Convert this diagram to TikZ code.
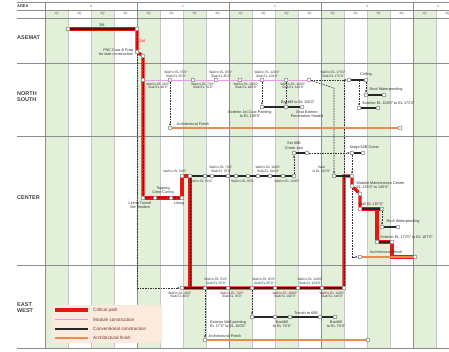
\documentclass[tikz,border=0pt]{standalone}
\usepackage{fontspec}
\setmainfont{Liberation Sans}
\usetikzlibrary{arrows.meta,positioning}
\definecolor{critred}{RGB}{232,22,18}
\definecolor{critdark}{RGB}{95,12,12}
\definecolor{modpink}{RGB}{236,150,236}
\definecolor{archorange}{RGB}{232,140,82}
\definecolor{qgreen}{RGB}{226,239,217}
\definecolor{legendbg}{RGB}{251,234,222}
\definecolor{gridgray}{RGB}{200,200,200}
\pgfdeclarelayer{grid}
\pgfdeclarelayer{wires}
\pgfsetlayers{grid,wires,main}

\begin{document}
\begin{tikzpicture}[
    x=1pt, y=-1pt,
    ev/.style={circle, draw=black!70, fill=white, line width=0.35pt, inner sep=0pt, minimum size=4pt},
    note/.style={font=\fontsize{3.3}{3.8}\selectfont, align=center, text=black!80, inner sep=0.5pt},
    tag/.style={font=\fontsize{3.8}{4.3}\selectfont, align=center, text=black!80, inner sep=0.5pt},
    area/.style={font=\fontsize{5.5}{6.1}\selectfont\bfseries, align=left, text=black!75, anchor=west, inner sep=0pt},
    hdr/.style={font=\fontsize{3.2}{3.6}\selectfont, text=black!65, inner sep=0pt},
    legtext/.style={font=\fontsize{4.6}{5}\selectfont, text=black!55!red!60!gray, anchor=west, inner sep=0pt},
    crit/.style={draw=critred, line width=3.4pt},
    critline/.style={draw=critdark, line width=1.2pt},
    critdash/.style={draw=critdark, line width=1pt, dash pattern=on 2pt off 1.2pt},
    modline/.style={draw=modpink, line width=0.8pt},
    conv/.style={draw=black!85, line width=1.3pt},
    archline/.style={draw=archorange, line width=1.3pt},
    depline/.style={draw=black!80, line width=0.6pt, dash pattern=on 1.6pt off 1pt},
    dep/.style={depline, -{Latex[length=2.2pt,width=2pt]}}
]
\useasboundingbox (0,0) rectangle (449,352);

% schedule grid
\begin{pgfonlayer}{grid}
\foreach \k in {0,2,...,16}
  \fill[qgreen] (45+23*\k,10) rectangle (68+23*\k,348);
\foreach \k in {0,...,17}
  \draw[gridgray, line width=0.3pt] (45+23*\k,10) -- (45+23*\k,348);
\foreach \j in {0,...,4}
  \draw[black!45, line width=0.45pt] (45+92*\j,2.5) -- (45+92*\j,348);
\foreach \yy in {2.5,10,18,63,136,265,348}
  \draw[black!45, line width=0.4pt] (17,\yy) -- (449,\yy);
\end{pgfonlayer}

\foreach \k in {0,...,17} {
  \pgfmathtruncatemacro\qn{mod(\k,4)+1}
  \node[hdr] (qtr\k) at (56.5+23*\k,14) {\qn Q};
}
\foreach \yx/\yn in {91/0,183/1,275/2,367/3,438/4}
  \node[hdr] (yr\yn) at (\yx,6.2) {\yn};

\node[area, font=\fontsize{4}{4.5}\selectfont\bfseries] (rowH) at (17,6.2) {AREA};
\node[area] (rowB) at (17,38) {ASEMAT};
\node[area] (rowN) at (17,97) {NORTH\\SOUTH};
\node[area] (rowC) at (17,198) {CENTER};
\node[area] (rowE) at (17,308) {EAST\\WEST};

% basemat
\node[ev] (b1) at (68,29) {};
\node[ev] (b2) at (137,29) {};
\node[ev] (b3) at (137,52) {};
\node[ev] (b4) at (143,56) {};
\node[tag, above=2pt] (bdur) at (102,29) {3M};
\node[tag, text=critred, right=2pt] (bcure) at (137,41) {2M};
\node[tag, left=1pt of b3, align=right] (bprep) {FNC Cure \& Prep\\for stair construction};

% north / south
\node[ev] (n1) at (143,80) {};
\node[ev] (n2) at (170,80) {};
\node[ev] (n3) at (193,80) {};
\node[ev] (n4) at (216,80) {};
\node[ev] (n5) at (240,80) {};
\node[ev] (n6) at (262,80) {};
\node[ev] (n7) at (286,80) {};
\node[ev] (n8) at (309,80) {};
\node[ev] (n9) at (349,80) {};
\node[ev] (n10) at (366,80) {};
\coordinate (j1) at (344,80);
\coordinate (j2) at (359,80);
\coordinate (j3) at (334,88);
\node[ev] (r1) at (366,95) {};
\node[ev] (r2) at (384,95) {};
\node[ev] (x1) at (359,108) {};
\node[ev] (x2) at (378,108) {};
\node[ev] (p1) at (262,107) {};
\node[ev] (p2) at (286,107) {};
\node[ev] (p3) at (302,107) {};
\node[ev] (a1) at (170,128) {};
\node[ev] (a2) at (400,128) {};

\node[note, above] (nsA1) at (176,78) {Wall to EL 55'0"\\Slab EL 55'0"};
\node[note, above] (nsA2) at (221,78) {Wall to EL 85'0"\\Slab EL 85'0"};
\node[note, above] (nsA3) at (267,78) {Wall to EL 120'0"\\Slab EL 120'0"};
\node[note, above] (nsA4) at (333,78) {Wall to EL 175'0"\\Slab EL 175'0"};
\node[note, below] (nsB1) at (158,82) {Wall to EL 40'0"\\Slab EL 40'0"};
\node[note, below] (nsB2) at (203,82) {Wall to EL 70'0"\\Slab EL 70'0"};
\node[note, below] (nsB3) at (246,82) {Wall to EL 100'0"\\Slab EL 100'0"};
\node[note, below] (nsB4) at (293,82) {Wall to EL 140'0"\\Slab EL 140'0"};
\node[tag, above=1pt of n10] (nsC) {Ceiling};
\node[tag, anchor=south west] (nsR) at ([xshift=3pt,yshift=1pt]r1.north) {Roof Waterproofing};
\node[tag, anchor=south west] (nsX) at ([xshift=3pt,yshift=1pt]x1.north) {Exterior EL 100'0" to EL 172'0"};
\node[tag, anchor=north] (nsP1) at (250,110) {Exterior 1st Coat Painting\\to EL 100'0"};
\node[tag, anchor=south] (nsP2) at (298,104) {Backfill to EL 100'0"};
\node[tag, anchor=north] (nsP3) at (307,110) {Seal Exterior\\Penetration Sealed};
\node[tag, anchor=south west] (nsF) at (176,126) {Architectural Finish};

% center
\node[ev] (c1) at (143,198) {};
\node[ev] (c2) at (155,198) {};
\node[ev] (c3) at (171,198) {};
\node[ev] (c4) at (182,198) {};
\node[ev] (c5) at (182,176) {};
\node[ev] (c6) at (190,176) {};
\node[ev] (c7) at (205,176) {};
\node[ev] (c8) at (212,176) {};
\node[ev] (c9) at (228,176) {};
\node[ev] (c10) at (236,176) {};
\node[ev] (c11) at (248,176) {};
\node[ev] (c12) at (258,176) {};
\node[ev] (c13) at (270,176) {};
\node[ev] (c14) at (283,176) {};
\node[ev] (c15) at (294,176) {};
\node[ev] (s1) at (294,153) {};
\node[ev] (s2) at (307,153) {};
\node[ev] (s3) at (352,153) {};
\node[ev] (s4) at (363,153) {};
\node[ev] (w1) at (334,176) {};
\node[ev] (w2) at (352,176) {};
\coordinate (k0) at (190,288);
\coordinate (k1) at (344,176);
\node[ev] (m1) at (352,186) {};
\node[ev] (m2) at (360,194) {};
\node[ev] (g1) at (360,209) {};
\node[ev] (g2) at (382,209) {};
\coordinate (k2) at (377,209);
\node[ev] (r3) at (382,227) {};
\node[ev] (r4) at (398,227) {};
\node[ev] (h1) at (377,242) {};
\node[ev] (h2) at (392,242) {};
\node[ev] (f1) at (360,257) {};
\node[ev] (f2) at (415,257) {};

\node[tag, anchor=north] (ceL1) at (140,201) {Lining Tunnel\\Set position};
\node[tag, anchor=south] (ceT) at (163,195) {Topping\\Crest Curing};
\node[tag, anchor=north] (ceL2) at (179,201) {Lining};
\node[note, anchor=south] (ceW1) at (175,173) {Wall to EL 40'0"};
\node[note, anchor=south] (ceW2) at (221,173) {Wall to EL 70'0"\\Slab EL 70'0"};
\node[note, anchor=south] (ceW3) at (268,173) {Wall to EL 100'0"\\Slab EL 100'0"};
\node[note, anchor=north] (ceW4) at (201,179) {Wall to EL 55'0"};
\node[note, anchor=north] (ceW5) at (243,179) {Wall to EL 85'0"};
\node[note, anchor=north] (ceW6) at (287,179) {Wall to EL 120'0"};
\node[tag, above=1pt of s1] (ceS1) {Set 60B\\Crane Jaw};
\node[tag, anchor=south west] (ceS2) at (349,150) {Stage 60B Crane};
\node[note, anchor=south east] (ceW7) at (331,173) {Wall\\to EL 187'0"};
\node[tag, anchor=west, align=left] (ceM) at (356,185) {Module Maintenance Center\\EL 125'0" to 145'0"};
\node[tag, anchor=south] (ceG) at (371,206) {Wall EL 187'0"};
\node[tag, anchor=south west] (ceR) at (386,224) {Roof Waterproofing};
\node[tag, anchor=south west] (ceX) at (380,239) {Exterior EL 172'0" to EL 187'0"};
\node[tag, anchor=south] (ceF) at (386,254) {Architectural Finish};

% east / west
\node[ev] (e1) at (182,288) {};
\node[ev] (e2) at (205,288) {};
\node[ev] (e3) at (228,288) {};
\node[ev] (e4) at (252,288) {};
\node[ev] (e5) at (275,288) {};
\node[ev] (e6) at (298,288) {};
\node[ev] (e7) at (322,288) {};
\node[ev] (e8) at (344,288) {};
\node[ev] (t1) at (252,317) {};
\node[ev] (t2) at (275,317) {};
\node[ev] (t3) at (290,317) {};
\node[ev] (t4) at (320,317) {};
\node[ev] (t5) at (335,317) {};
\node[ev] (f3) at (205,340) {};
\node[ev] (f4) at (368,340) {};

\node[note, anchor=south] (ewA1) at (216,285) {Wall to EL 55'0"\\Slab EL 55'0"};
\node[note, anchor=south] (ewA2) at (264,285) {Wall to EL 85'0"\\Slab EL 85'0"};
\node[note, anchor=south] (ewA3) at (310,285) {Wall to EL 120'0"\\Slab EL 120'0"};
\node[note, anchor=north] (ewB1) at (180,291) {Wall to EL 40'0"\\Slab EL 40'0"};
\node[note, anchor=north] (ewB2) at (232,291) {Wall to EL 70'0"\\Slab EL 70'0"};
\node[note, anchor=north] (ewB3) at (285,291) {Wall to EL 100'0"\\Slab EL 100'0"};
\node[note, anchor=north] (ewB4) at (332,291) {Wall to EL 140'0"\\Slab EL 140'0"};
\node[tag, anchor=north] (ewP) at (228,320) {Exterior Wall painting\\EL 17'0" to EL 100'0"};
\node[tag, anchor=north] (ewK1) at (282,320) {Backfill\\to EL 70'0"};
\node[tag, anchor=south] (ewT) at (306,315) {Trench to 60B};
\node[tag, anchor=north] (ewK2) at (336,320) {Backfill\\to EL 70'0"};
\node[tag, anchor=south west] (ewF) at (208,338) {Architectural Finish};

\begin{pgfonlayer}{wires}
% dependencies
\draw[dep] (b3) |- (e1);
\draw[dep] (n2) -- (a1);
\draw[dep] (n6) -- (p1);
\draw[dep] (n7) -- (p2);
\draw[depline] (n8) -- (j1);
\draw[dep] (j1) -- (n9);
\draw[depline] (j1) -- (k1);
\draw[dep] (n8) -- (j3) -- (w1);
\draw[dep] (j2) -- (x1);
\draw[dep] (n10) -- (r1);
\draw[dep] (c15) -- (s1);
\draw[dep] (s2) -- (s3);
\draw[dep] (s3) -- (w2);
\draw[dep] (m1) |- (f1);
\draw[dep] (g2) -- (r3);
\draw[dep] (e4) -- (t1);
\draw[dep] (e2) -- (f3);
% critical path
\draw[crit] (b1) -- (b2);
\draw[crit] (b2) -- (b3) -- (b4) -- (c1);
\draw[crit] (c1) -- (c4) -- (c5) -- (c6) -- (k0);
\draw[crit] (e1) -- (e8) -- (k1) -- (w2) -- (m1) -- (m2) -- (g1);
\draw[crit] (g1) -- (g2);
\draw[crit] (k2) -- (h1) -- (h2) |- (f2);
\draw[critline] (b1) -- (b2);
\draw[critdash] (b2) -- (b3);
\draw[critdash] (b4) -- (c1);
\draw[critdash] (c1) -- (c4);
\draw[critdash] (c6) -- (k0);
\draw[critline] (e1) -- (e8);
\draw[critdash] (e8) -- (k1);
% activities
\draw[modline] (n1) -- (n8);
\draw[conv] (n9) -- (n10);
\draw[conv] (r1) -- (r2);
\draw[conv] (x1) -- (x2);
\draw[conv] (p1) -- (p3);
\draw[conv] (c6) -- (c15);
\draw[conv] (s1) -- (s2);
\draw[conv] (s3) -- (s4);
\draw[conv] (w1) -- (w2);
\draw[conv] (g1) -- (g2);
\draw[conv] (r3) -- (r4);
\draw[conv] (h1) -- (h2);
\draw[conv] (t1) -- (t5);
\draw[archline] (a1) -- (a2);
\draw[archline] (f1) -- (f2);
\draw[archline] (f3) -- (f4);
\end{pgfonlayer}

% legend
\fill[legendbg] (52,305) rectangle (162,343);
\node[legtext] (lg1) at (93,310) {Critical path};
\node[legtext] (lg2) at (93,319.5) {Module construction};
\node[legtext] (lg3) at (93,329) {Conventional construction};
\node[legtext] (lg4) at (93,338) {Architectural finish};
\draw[crit, line width=4pt] ([xshift=-38pt]lg1.west) -- ([xshift=-5pt]lg1.west);
\draw[modline, line width=1.2pt] ([xshift=-38pt]lg2.west) -- ([xshift=-5pt]lg2.west);
\draw[conv, line width=1.5pt] ([xshift=-38pt]lg3.west) -- ([xshift=-5pt]lg3.west);
\draw[archline, line width=1.5pt] ([xshift=-38pt]lg4.west) -- ([xshift=-5pt]lg4.west);
\end{tikzpicture}
\end{document}
